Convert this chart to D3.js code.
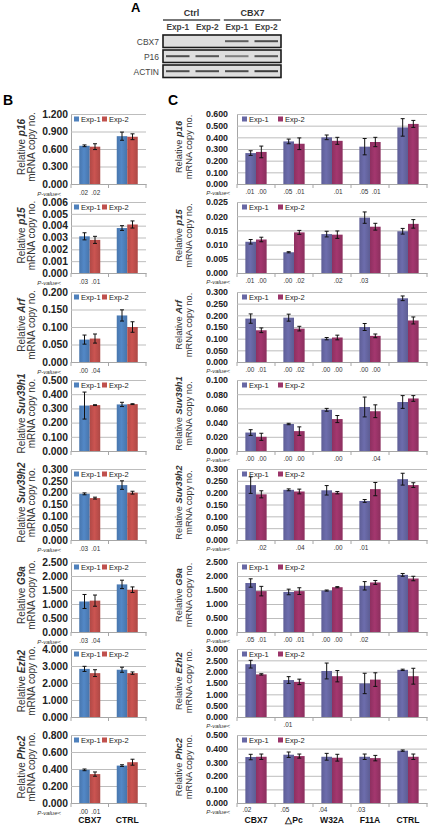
<!DOCTYPE html>
<html><head><meta charset="utf-8">
<script src="https://cdn.jsdelivr.net/npm/d3@7"></script>
<style>body{margin:0;background:#fff}svg{display:block}text{font-family:"Liberation Sans",Arial,sans-serif}</style>
</head><body>
<svg id="c" width="430" height="828"></svg>
<script>
// ---------- DATA ----------
const series = ["Exp-1","Exp-2"];
const genes = ["p16","p15","Arf","Suv39h1","Suv39h2","G9a","Ezh2","Phc2"];
const bCats = ["CBX7","CTRL"];
const cCats = ["CBX7","\u25B3Pc","W32A","F11A","CTRL"];

const bMax  = [1.2,0.006,0.2,0.5,0.3,2.5,4,0.8];
const bStep = [0.3,0.001,0.05,0.1,0.05,0.5,1,0.2];
const cMax  = [0.6,0.025,0.3,0.1,0.3,2.5,3,0.5];
const cStep = [0.1,0.005,0.05,0.02,0.05,0.5,0.5,0.1];

const bExp1 = [[0.655,0.82],[0.0031,0.0038],[0.064,0.133],[0.32,0.328],[0.195,0.232],[1.09,1.70],[2.83,2.78],[0.39,0.44]];
const bErr1 = [[0.015,0.07],[0.0003,0.0002],[0.013,0.016],[0.095,0.015],[0.004,0.018],[0.25,0.15],[0.15,0.15],[0.01,0.01]];
const bExp2 = [[0.64,0.81],[0.0028,0.0041],[0.067,0.100],[0.323,0.33],[0.177,0.200],[1.12,1.51],[2.58,2.58],[0.34,0.48]];
const bErr2 = [[0.05,0.05],[0.0003,0.0003],[0.013,0.015],[0.003,0.003],[0.004,0.006],[0.2,0.1],[0.2,0.07],[0.025,0.035]];
const bP1 = [[".02",""],[".03",""],[".00",""],["",""],[".03",""],[".03",""],["",""],[".00",""]];
const bP2 = [[".02",""],[".01",""],[".04",""],["",""],[".01",""],[".04",""],["",""],[".01",""]];
const bShowP = [1,1,1,0,1,1,0,1];

const cExp1 = [
 [0.265,0.365,0.40,0.32,0.485],
 [0.011,0.0073,0.0137,0.0195,0.0147],
 [0.186,0.190,0.100,0.150,0.273],
 [0.026,0.038,0.058,0.062,0.069],
 [0.232,0.212,0.210,0.165,0.257],
 [1.75,1.43,1.48,1.65,2.04],
 [2.33,1.63,2.03,1.48,2.08],
 [0.338,0.355,0.340,0.340,0.385]];
const cErr1 = [
 [0.02,0.02,0.02,0.07,0.075],
 [0.0008,0.0002,0.001,0.002,0.001],
 [0.02,0.015,0.005,0.015,0.01],
 [0.004,0.001,0.002,0.014,0.009],
 [0.035,0.004,0.02,0.006,0.025],
 [0.15,0.1,0.02,0.15,0.05],
 [0.17,0.15,0.35,0.45,0.03],
 [0.02,0.02,0.025,0.02,0.005]];
const cExp2 = [
 [0.275,0.345,0.37,0.36,0.515],
 [0.0118,0.0143,0.0135,0.0163,0.0173],
 [0.136,0.143,0.105,0.112,0.178],
 [0.020,0.028,0.045,0.056,0.074],
 [0.193,0.205,0.200,0.215,0.232],
 [1.46,1.46,1.60,1.77,1.91],
 [1.88,1.55,1.80,1.65,1.80],
 [0.340,0.345,0.333,0.330,0.340]];
const cErr2 = [
 [0.05,0.05,0.03,0.04,0.03],
 [0.0008,0.0007,0.0013,0.0012,0.0015],
 [0.01,0.01,0.01,0.008,0.015],
 [0.005,0.006,0.005,0.009,0.004],
 [0.015,0.01,0.005,0.028,0.01],
 [0.17,0.12,0.02,0.07,0.08],
 [0.03,0.12,0.25,0.3,0.35],
 [0.02,0.015,0.025,0.02,0.02]];
const cP1 = [
 [".01",".05","",".05",""],
 [".01",".00","",".03",""],
 [".00",".00",".00",".00",""],
 [".00",".00","","",""],
 ["","","",".01",""],
 [".05",".00",".00",".02",""],
 ["",".01","","",""],
 [".02",".05",".04",".03",""]];
const cP2 = [
 [".00",".01",".01",".01",""],
 [".00",".02",".02","",""],
 [".01",".02",".00",".00",""],
 [".00",".00",".00",".04",""],
 [".02",".04",".00","",""],
 [".01",".01",".00","",""],
 ["","","","",""],
 ["","","","",""]];

// Western blot (panel A)
const blotGroups = ["Ctrl","CBX7"];
const blotLanes = ["Exp-1","Exp-2","Exp-1","Exp-2"];
const blotRows = ["CBX7","P16","ACTIN"];
const blotBands = [[0,0,0.75,0.85],[0.85,0.8,0.55,0.8],[0.85,0.85,0.85,0.95]];

// ---------- LAYOUT ----------
const rowTop = [114,202,292,380,469,562,649,735];
const rowBot = [184,273,362,451,540,632,717,803];
const svg = d3.select("#c");
const fmt = d3.format(".3f");

function panel(o){
  const g = svg.append("g");
  const x = d3.scaleBand().domain(o.cats).range([o.x0,o.x1]);
  const bw = x.bandwidth();
  const xs = d3.scaleBand().domain(series).range([bw*0.22,bw*0.78]);
  const y = d3.scaleLinear().domain([0,o.max]).range([o.bot,o.top]);
  const ticks = d3.range(0,o.max+o.step/2,o.step);
  const ax = g.append("g").attr("transform",`translate(${o.x0},0)`)
    .call(d3.axisLeft(y).tickValues(ticks).tickFormat(fmt).tickSize(-(o.x1-o.x0)).tickPadding(o.pad));
  ax.select(".domain").attr("stroke","#a6a6a6");
  ax.selectAll(".tick line").attr("stroke","#bdbdbd");
  ax.selectAll(".tick text").attr("font-size",o.tickSize).attr("font-weight","bold")
    .attr("fill","#222").attr("font-family","Liberation Sans, Arial");
  // x axis
  const xa = g.append("g").attr("transform",`translate(0,${o.bot})`)
    .call(d3.axisBottom(x).tickSize(0).tickFormat(""));
  xa.select(".domain").attr("stroke","#a6a6a6");
  const edges = o.cats.map(c=>x(c)).concat([o.x1]);
  g.selectAll(".edge").data(edges).join("line")
    .attr("x1",d=>d).attr("x2",d=>d).attr("y1",o.bot).attr("y2",o.bot+4).attr("stroke","#a6a6a6");
  // bars
  const rows = o.cats.map((c,i)=>({c, vals:[
    {s:"Exp-1",v:o.v1[i],e:o.e1[i],p:o.p1[i]},
    {s:"Exp-2",v:o.v2[i],e:o.e2[i],p:o.p2[i]}]}));
  const grp = g.selectAll(".grp").data(rows).join("g").attr("transform",d=>`translate(${x(d.c)},0)`);
  grp.selectAll("rect").data(d=>d.vals).join("rect")
    .attr("x",d=>xs(d.s)).attr("width",xs.bandwidth())
    .attr("y",d=>y(d.v)).attr("height",d=>o.bot-y(d.v))
    .attr("fill",d=>`url(#${o.id}${d.s==="Exp-1"?1:2})`);
  const eb = grp.selectAll(".eb").data(d=>d.vals).join("g");
  eb.append("line").attr("x1",d=>xs(d.s)+xs.bandwidth()/2).attr("x2",d=>xs(d.s)+xs.bandwidth()/2)
    .attr("y1",d=>y(d.v+d.e)).attr("y2",d=>y(d.v-d.e)).attr("stroke","#111").attr("stroke-width",1);
  [1,-1].forEach(sg=>{
    eb.append("line").attr("x1",d=>xs(d.s)+xs.bandwidth()/2-2).attr("x2",d=>xs(d.s)+xs.bandwidth()/2+2)
      .attr("y1",d=>y(d.v+sg*d.e)).attr("y2",d=>y(d.v+sg*d.e)).attr("stroke","#111").attr("stroke-width",1);
  });
  // p-values
  grp.selectAll(".pv").data(d=>d.vals).join("text")
    .attr("x",d=>xs(d.s)+xs.bandwidth()/2+o.pShift+(d.s==="Exp-1"?-0.8:0.8)).attr("y",o.bot+o.pDy)
    .attr("text-anchor","middle").attr("font-size",6.4).attr("fill","#333").text(d=>d.p);
  if(o.showP){
    g.append("text").attr("x",o.pEnd).attr("y",o.bot+o.pLab).attr("text-anchor","end")
      .attr("font-size",6).attr("font-style","italic").attr("fill","#333").text("P-value<");
  }
  // legend
  const lg = g.append("g").attr("transform",`translate(${o.x0+o.legX},${o.top+5})`);
  series.forEach((s,i)=>{
    const it = lg.append("g").attr("transform",`translate(${i*o.legGap},0)`);
    it.append("rect").attr("x",0).attr("y",-2.5).attr("width",5).attr("height",5).attr("fill",o.colors[i]);
    it.append("text").attr("x",7).attr("y",3).attr("font-size",o.legFont).attr("fill","#222").text(s);
  });
  // y title
  const cy = (o.top+o.bot)/2 - 2;
  const t1 = g.append("text").attr("transform",`translate(${o.t1x},${cy}) rotate(-90)`)
    .attr("text-anchor","middle").attr("dy","0.35em").attr("font-size",o.titleSize).attr("fill","#333");
  t1.append("tspan").text("Relative ");
  t1.append("tspan").attr("font-weight","bold").attr("font-style","italic").text(o.gene);
  g.append("text").attr("transform",`translate(${o.t2x},${cy}) rotate(-90)`)
    .attr("text-anchor","middle").attr("dy","0.35em").attr("font-size",o.titleSize).attr("fill","#333")
    .text("mRNA copy no.");
  // category labels
  if(o.catLabels){
    g.selectAll(".cl").data(o.cats).join("text").attr("x",d=>x(d)+bw/2).attr("y",o.bot+20)
      .attr("text-anchor","middle").attr("font-size",8.6).attr("font-weight","bold").attr("fill","#111").text(d=>d);
  }
}

// gradients
const defs = svg.append("defs");
function grad(id,col){
  const c = d3.color(col);
  const lg = defs.append("linearGradient").attr("id",id).attr("x1","0").attr("x2","1").attr("y1","0").attr("y2","0");
  lg.append("stop").attr("offset","0%").attr("stop-color",c.darker(0.25));
  lg.append("stop").attr("offset","45%").attr("stop-color",c.brighter(0.15));
  lg.append("stop").attr("offset","100%").attr("stop-color",c.darker(0.3));
}
const bColors = ["#4F81BD","#C0504D"];
const cColors = ["#6767A4","#9B3469"];
grad("b1",bColors[0]); grad("b2",bColors[1]); grad("c1",cColors[0]); grad("c2",cColors[1]);

genes.forEach((gene,i)=>{
  panel({id:"b",x0:71,x1:146,top:rowTop[i],bot:rowBot[i],cats:bCats,v1:bExp1[i],v2:bExp2[i],
    e1:bErr1[i],e2:bErr2[i],p1:bP1[i],p2:bP2[i],showP:bShowP[i],pEnd:61,pLab:12,pShift:0,pDy:10.5,
    max:bMax[i],step:bStep[i],colors:bColors,tickSize:10.3,pad:3,
    legX:3,legGap:28,legFont:7.5,gene,t1x:21,t2x:31,titleSize:10,catLabels:i===7});
  panel({id:"c",x0:237,x1:427,top:rowTop[i],bot:rowBot[i],cats:cCats,v1:cExp1[i],v2:cExp2[i],
    e1:cErr1[i],e2:cErr2[i],p1:cP1[i],p2:cP2[i],showP:1,pEnd:230,pLab:10.5,pShift:i===7?-3:0,pDy:i===7?8.5:10,
    max:cMax[i],step:cStep[i],colors:cColors,tickSize:8.8,pad:9,
    legX:5,legGap:36,legFont:7.5,gene,t1x:179,t2x:189,titleSize:9.3,catLabels:i===7});
});

// section letters
svg.append("text").attr("x",3).attr("y",105).attr("font-size",14).attr("font-weight","bold").text("B");
svg.append("text").attr("x",168).attr("y",105).attr("font-size",14).attr("font-weight","bold").text("C");
svg.append("text").attr("x",131).attr("y",12).attr("font-size",13).attr("font-weight","bold").text("A");

// ---------- Panel A blot ----------
const bx = d3.scaleBand().domain(d3.range(blotLanes.length)).range([163,281]);
const gx = d3.scaleBand().domain(blotGroups).range([163,281]).paddingInner(0.06);
const byTop = [35,50,65];
const ba = svg.append("g");
ba.selectAll(".gh").data(blotGroups).join("text").attr("x",d=>gx(d)+gx.bandwidth()/2).attr("y",16)
  .attr("text-anchor","middle").attr("font-size",9).attr("font-weight","bold").attr("fill","#333").text(d=>d);
ba.selectAll(".gl").data(blotGroups).join("line").attr("x1",d=>gx(d)).attr("x2",d=>gx(d)+gx.bandwidth())
  .attr("y1",20).attr("y2",20).attr("stroke","#777").attr("stroke-width",1.8);
ba.selectAll(".ln").data(blotLanes).join("text").attr("x",(d,i)=>bx(i)+bx.bandwidth()/2).attr("y",30)
  .attr("text-anchor","middle").attr("font-size",8.3).attr("font-weight","bold").attr("fill","#444").text(d=>d);
blotRows.forEach((r,ri)=>{
  ba.append("text").attr("x",159).attr("y",byTop[ri]+9.5).attr("text-anchor","end")
    .attr("font-size",8.5).attr("fill","#444").text(r);
  ba.append("rect").attr("x",163).attr("y",byTop[ri]).attr("width",118).attr("height",12.5)
    .attr("fill","#dedede").attr("stroke","#1a1a1a").attr("stroke-width",1.6);
  ba.selectAll(".bd"+ri).data(blotBands[ri]).join("rect")
    .attr("x",(d,i)=>bx(i)+3).attr("width",bx.bandwidth()-6)
    .attr("y",byTop[ri]+5.2).attr("height",2)
    .attr("fill","#333").attr("opacity",d=>d);
});
</script>
</body></html>
